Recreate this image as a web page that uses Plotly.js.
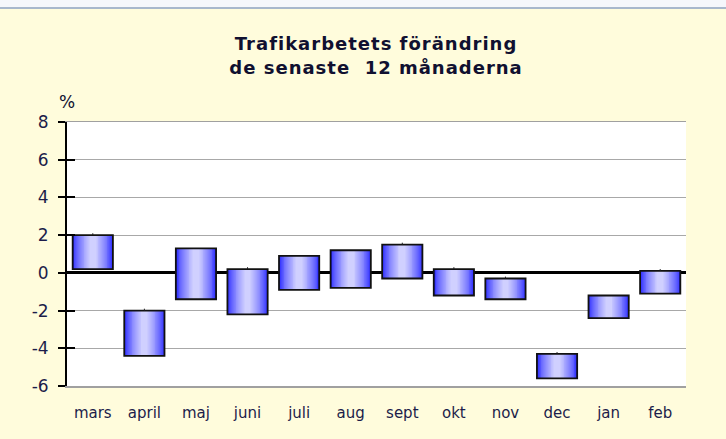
<!DOCTYPE html>
<html><head><meta charset="utf-8">
<script src="https://cdn.plot.ly/plotly-3.0.1.min.js"></script>
<style>body{margin:0;padding:0;}#chart{width:726px;height:439px;}
.gtitle{letter-spacing:1px;}</style>
</head><body><div id="chart"></div>
<script>
const months = ["mars","april","maj","juni","juli","aug","sept","okt","nov","dec","jan","feb"];
const boxBottom = [0.2, -4.4, -1.4, -2.2, -0.9, -0.8, -0.3, -1.2, -1.4, -5.6, -2.4, -1.1];
const boxTop    = [2.0, -2.0,  1.3,  0.2,  0.9,  1.2,  1.5,  0.2, -0.3, -4.3, -1.2,  0.1];
const highVals  = [2.1, -1.9,  1.3,  0.3,  0.9,  1.2,  1.6,  0.3, -0.2, -4.2, -1.2,  0.2];
const yTicks = [-6, -4, -2, 0, 2, 4, 6, 8];

const heights = boxTop.map((t, i) => t - boxBottom[i]);
const whisker = highVals.map((h, i) => h - boxTop[i]);
const barW = 0.78;
// gradient layers from saturated blue edge to pale centre
const nLayers = 20;
const edge = [36, 36, 255], centre = [208, 208, 255];
const traces = [];
for (let k = 0; k < nLayers; k++) {
  const f = Math.pow(k / (nLayers - 1), 0.7);
  const c = edge.map((e, j) => Math.round(e + (centre[j] - e) * f));
  traces.push({
    type: "bar", x: months, y: heights, base: boxBottom,
    width: barW * (1 - 0.9 * k / nLayers),
    marker: {color: "rgb(" + c.join(",") + ")", line: {width: 0}},
    hoverinfo: "skip", showlegend: false
  });
}
traces.push({
  type: "bar", x: months, y: heights, base: boxBottom, width: barW,
  marker: {color: "rgba(0,0,0,0)", line: {color: "#111111", width: 1.8}},
  error_y: {type: "data", array: whisker, arrayminus: whisker.map(() => 0), symmetric: false,
            width: 0, thickness: 1, color: "#222222"},
  showlegend: false
});

const layout = {
  width: 726, height: 439,
  margin: {l: 67, r: 40, t: 122, b: 53},
  paper_bgcolor: "#fffcdc",
  plot_bgcolor: "#ffffff",
  barmode: "overlay",
  bargap: 0,
  font: {family: "DejaVu Sans, Verdana, sans-serif", color: "#1c1c4a"},
  title: {
    text: "<b>Trafikarbetets förändring<br>de senaste  12 månaderna</b>",
    font: {size: 18, color: "#101030", family: "DejaVu Sans, sans-serif"},
    x: 0.518, xanchor: "center", yref: "container", y: 0.885, yanchor: "middle"
  },
  xaxis: {
    type: "category", range: [-0.5, 11.5],
    showgrid: false, zeroline: false,
    showline: true, linecolor: "#a0a0a0", linewidth: 1.5, mirror: true,
    ticks: "", ticklabelstandoff: 12,
    tickfont: {size: 15, color: "#1c1c4a"}, fixedrange: true
  },
  yaxis: {
    range: [-6, 8], tickvals: yTicks, ticktext: yTicks.map(String),
    showgrid: true, gridcolor: "#a8a8a8", gridwidth: 1.2,
    zeroline: true, zerolinecolor: "#000000", zerolinewidth: 3,
    showline: true, linecolor: "#000000", linewidth: 2,
    ticks: "outside", ticklen: 7, tickwidth: 2, tickcolor: "#000000",
    ticklabelstandoff: 6,
    tickfont: {size: 17, color: "#1c1c4a"}, fixedrange: true
  },
  yaxis2: {
    overlaying: "y", side: "left", range: [-6, 8], tickvals: yTicks,
    showticklabels: false, showgrid: false, zeroline: false, showline: false,
    ticks: "inside", ticklen: 8, tickwidth: 2, tickcolor: "#000000", fixedrange: true
  },
  annotations: [{
    text: "%", xref: "paper", yref: "paper", x: 0.0, y: 1.075,
    xanchor: "center", yanchor: "middle", showarrow: false,
    font: {size: 17, color: "#101030"}
  }],
  shapes: [
    {type: "rect", xref: "paper", yref: "paper", x0: -0.2, x1: 1.2, y0: 1.432, y1: 1.5,
     fillcolor: "#f5f7fb", line: {width: 0}, layer: "below"},
    {type: "line", xref: "paper", yref: "paper", x0: -0.2, x1: 1.2, y0: 1.432, y1: 1.432,
     line: {color: "#a8b8cc", width: 2}}
  ]
};
// invisible trace to activate the secondary axis for the inner tick marks
traces.push({type: "scatter", x: [months[0]], y: [yTicks[0]], yaxis: "y2", mode: "markers",
             marker: {opacity: 0}, showlegend: false, hoverinfo: "skip"});
Plotly.newPlot("chart", traces, layout, {displayModeBar: false, staticPlot: true});
</script></body></html>
